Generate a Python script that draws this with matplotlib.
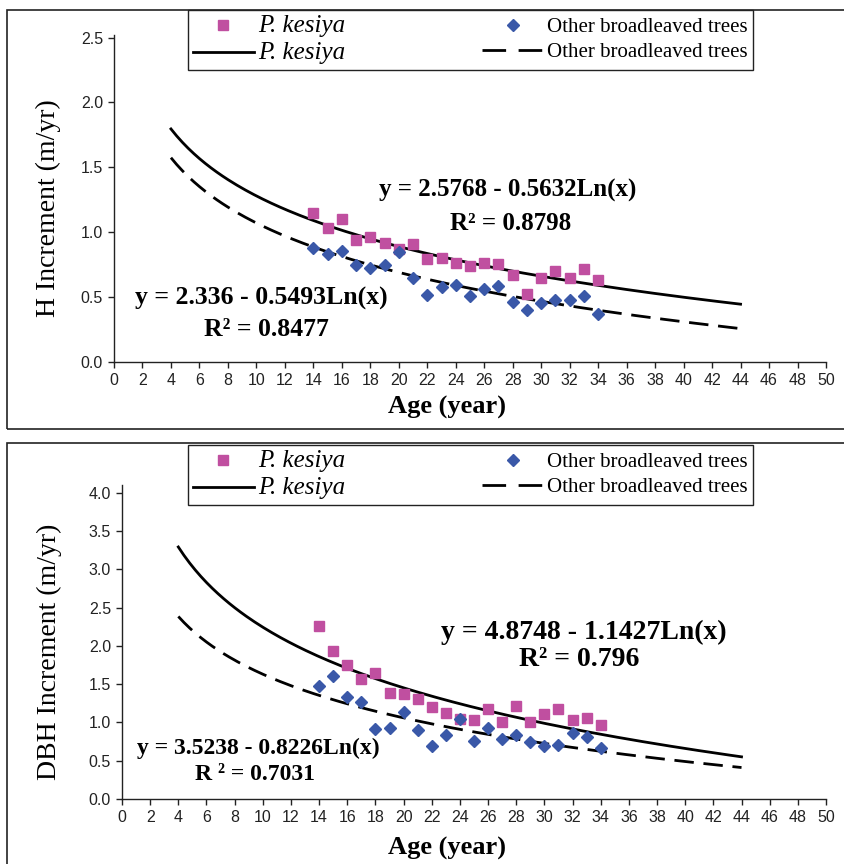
import numpy as np
import matplotlib
matplotlib.use("Agg")
import matplotlib.pyplot as plt
from matplotlib.patches import Rectangle
from matplotlib.lines import Line2D

# ---- data ----
age = [14, 15, 16, 17, 18, 19, 20, 21, 22, 23, 24, 25, 26, 27, 28, 29, 30, 31, 32, 33, 34]

h_kesiya = [1.15, 1.03, 1.10, 0.94, 0.96, 0.92, 0.87, 0.91, 0.79, 0.80, 0.76, 0.74, 0.76, 0.755,
            0.67, 0.525, 0.65, 0.70, 0.65, 0.72, 0.635]
h_other = [0.875, 0.835, 0.855, 0.75, 0.725, 0.75, 0.85, 0.65, 0.52, 0.575, 0.595, 0.51, 0.56, 0.585,
           0.46, 0.40, 0.455, 0.475, 0.475, 0.505, 0.37]

dbh_kesiya = [2.26, 1.93, 1.75, 1.57, 1.65, 1.39, 1.37, 1.30, 1.20, 1.12, 1.04, 1.03, 1.17, 1.00,
              1.21, 1.00, 1.11, 1.17, 1.03, 1.06, 0.96]
dbh_other = [1.48, 1.60, 1.33, 1.27, 0.92, 0.93, 1.14, 0.90, 0.69, 0.83, 1.04, 0.76, 0.93, 0.78,
             0.83, 0.75, 0.69, 0.70, 0.86, 0.81, 0.67]

# trend line coefficients printed on the chart: y = a - b*ln(x)
h_fit_kesiya = (2.5768, 0.5632)
h_fit_other = (2.336, 0.5493)
dbh_fit_kesiya = (4.8748, 1.1427)
dbh_fit_other = (3.5238, 0.8226)
fit_range = (4, 44)

PINK = "#C04FA0"
BLUE = "#3A58A8"
SERIF = ["Liberation Serif", "DejaVu Serif"]
SANS = ["Liberation Sans", "DejaVu Sans"]

W, H = 844, 864
fig = plt.figure(figsize=(W / 100, H / 100), dpi=100)


def fx(px):
    return px / W


def fy(py):
    return 1 - py / H


def panel(top, bottom, left, y_max, y_ticks, kes, oth, fit_k, fit_o, ylabel,
          eqs, frame_top, frame_bottom, leg_top):
    ax = fig.add_axes([fx(left), fy(bottom), fx(826) - fx(left), fy(top) - fy(bottom)])
    fig.patches.append(Rectangle((fx(7), fy(frame_bottom)), 1.2, fy(frame_top) - fy(frame_bottom),
                                 transform=fig.transFigure, fill=False, lw=1.2, ec="#222222"))

    xs = np.linspace(fit_range[0], fit_range[1], 200)
    ln_k, = ax.plot(xs, fit_k[0] - fit_k[1] * np.log(xs), color="black", lw=2.0)
    ax.plot(xs, fit_o[0] - fit_o[1] * np.log(xs), color="black", lw=2.0, dashes=(7, 3.5))
    sc_k, = ax.plot(age, kes, ls="none", marker="s", ms=7, color=PINK, zorder=3)
    sc_o, = ax.plot(age, oth, ls="none", marker="D", ms=6, color=BLUE, zorder=3)
    # legend proxy so the dashed key shows two whole dashes
    ln_o = Line2D([], [], color="black", lw=2.0, dashes=(8.5, 4.5))

    ax.set_xlim(0, 50)
    ax.set_ylim(0, y_max)
    ax.set_xticks(range(0, 51, 2))
    ax.set_yticks(y_ticks)
    ax.set_yticklabels([f"{v:.1f}" for v in y_ticks])
    for s in ("top", "right"):
        ax.spines[s].set_visible(False)
    for s in ("left", "bottom"):
        ax.spines[s].set_color("#222222")
        ax.spines[s].set_linewidth(1.0)
    ax.tick_params(direction="out", length=4, width=1, color="#222222",
                   labelsize=11.5, labelcolor="#222222", pad=4)
    for lab in ax.get_xticklabels() + ax.get_yticklabels():
        lab.set_family(SANS)

    ax.set_xlabel("Age (year)", family=SERIF, fontsize=19, fontweight="bold")
    ax.set_ylabel(ylabel, family=SERIF, fontsize=20)
    ax.patch.set_alpha(0)

    for (txt, x, y, size) in eqs:
        fig.text(fx(x), fy(y), txt, family=SERIF, fontsize=size, fontweight="bold",
                 ha="center", va="center")

    leg = ax.legend([sc_k, ln_k, sc_o, ln_o],
                    ["P. kesiya", "P. kesiya", "Other broadleaved trees", "Other broadleaved trees"],
                    ncol=2, loc="upper left", bbox_to_anchor=(fx(188), fy(leg_top)),
                    bbox_transform=fig.transFigure, borderaxespad=0,
                    prop={"family": SERIF, "size": 15}, frameon=True, fancybox=False,
                    framealpha=1, edgecolor="#222222", handlelength=2.9, handletextpad=0.2,
                    columnspacing=6.6, labelspacing=0.25, borderpad=0.25, numpoints=1)
    leg.get_frame().set_linewidth(1.0)
    texts = leg.get_texts()
    for t in texts[:2]:
        t.set_fontstyle("italic")
        t.set_fontsize(18)
    return ax


ax1 = panel(35, 362, 114, 2.52, [0.0, 0.5, 1.0, 1.5, 2.0, 2.5],
            h_kesiya, h_other, h_fit_kesiya, h_fit_other, "H Increment (m/yr)",
            [("y = 2.5768 - 0.5632Ln(x)", 508, 190, 18),
             ("R² = 0.8798", 511, 224, 18),
             ("y = 2.336 - 0.5493Ln(x)", 261, 298, 18.5),
             ("R² = 0.8477", 266, 330, 18.5)],
            10, 429, 10)
ax1.xaxis.set_label_coords(0.468, -0.105)
ax1.yaxis.set_label_coords(-0.075, 0.47)

ax2 = panel(485, 799, 122, 4.1, [0.0, 0.5, 1.0, 1.5, 2.0, 2.5, 3.0, 3.5, 4.0],
            dbh_kesiya, dbh_other, dbh_fit_kesiya, dbh_fit_other, "DBH Increment (m/yr)",
            [("y = 4.8748 - 1.1427Ln(x)", 584, 632, 20),
             ("R² = 0.796", 579, 660, 20),
             ("y = 3.5238 - 0.8226Ln(x)", 258, 748, 17),
             ("R ² = 0.7031", 255, 775, 17)],
            443, 900, 445)
ax2.xaxis.set_label_coords(0.462, -0.12)
ax2.yaxis.set_label_coords(-0.085, 0.47)

fig.savefig("out.png", dpi=100)
